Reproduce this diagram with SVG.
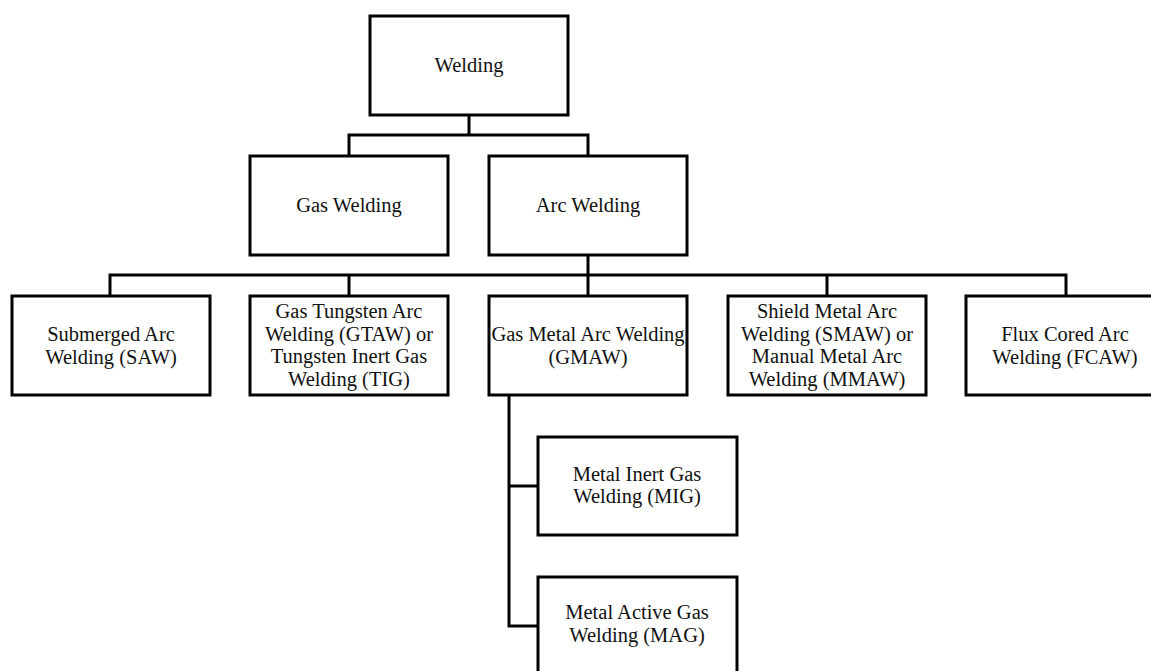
<svg xmlns="http://www.w3.org/2000/svg" width="1151" height="671" viewBox="0 0 1151 671">
<style>
.box{fill:#fff;stroke:#000;stroke-width:3}
.con{fill:none;stroke:#000;stroke-width:3;stroke-linejoin:miter}
text{font-family:"Liberation Serif","DejaVu Serif",serif;font-size:20.5px;fill:#111;text-anchor:middle}
</style>
<rect width="1151" height="671" fill="#fff"/>
<g id="connectors">
<path class="con" d="M469 115V135M349 156V135H588V156"/>
<path class="con" d="M588 255V296M110 296V275H1066V296M349 275V296M827 275V296"/>
<path class="con" d="M509 395V626H538M509 486H538"/>
</g>
<g id="welding"><rect class="box" x="370" y="16" width="198" height="99"/><text x="469" y="72">Welding</text></g>
<g id="gas-welding"><rect class="box" x="250" y="156" width="198" height="99"/><text x="349" y="212">Gas Welding</text></g>
<g id="arc-welding"><rect class="box" x="489" y="156" width="198" height="99"/><text x="588" y="212">Arc Welding</text></g>
<g id="saw"><rect class="box" x="12" y="296" width="198" height="99"/><text x="111" y="341">Submerged Arc</text><text x="111" y="364">Welding (SAW)</text></g>
<g id="gtaw"><rect class="box" x="250" y="296" width="198" height="99"/><text x="349" y="318">Gas Tungsten Arc</text><text x="349" y="341">Welding (GTAW) or</text><text x="349" y="363">Tungsten Inert Gas</text><text x="349" y="386">Welding (TIG)</text></g>
<g id="gmaw"><rect class="box" x="489" y="296" width="198" height="99"/><text x="588" y="341">Gas Metal Arc Welding</text><text x="588" y="364">(GMAW)</text></g>
<g id="smaw"><rect class="box" x="728" y="296" width="198" height="99"/><text x="827" y="318">Shield Metal Arc</text><text x="827" y="341">Welding (SMAW) or</text><text x="827" y="363">Manual Metal Arc</text><text x="827" y="386">Welding (MMAW)</text></g>
<g id="fcaw"><rect class="box" x="966" y="296" width="198" height="99"/><text x="1065" y="341">Flux Cored Arc</text><text x="1065" y="364">Welding (FCAW)</text></g>
<g id="mig"><rect class="box" x="538" y="437" width="199" height="98"/><text x="637" y="481">Metal Inert Gas</text><text x="637" y="503">Welding (MIG)</text></g>
<g id="mag"><rect class="box" x="538" y="577" width="199" height="99"/><text x="637" y="619">Metal Active Gas</text><text x="637" y="642">Welding (MAG)</text></g>
</svg>
